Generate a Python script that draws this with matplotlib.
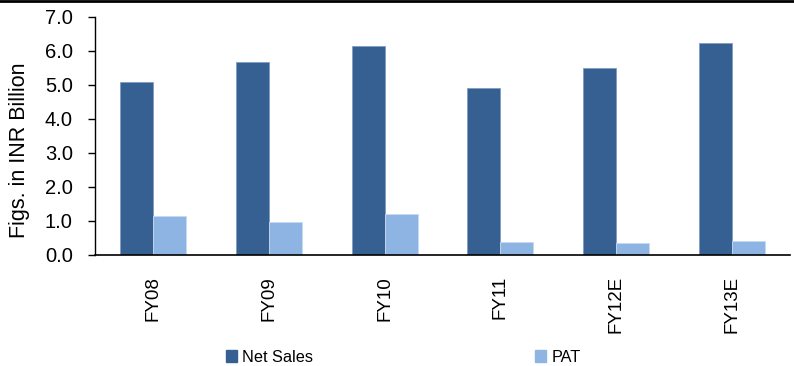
import numpy as np
import matplotlib
matplotlib.use('Agg')
import matplotlib.pyplot as plt
from matplotlib.lines import Line2D
from matplotlib.patches import Patch

years = ['FY08', 'FY09', 'FY10', 'FY11', 'FY12E', 'FY13E']
net_sales = [5.09, 5.65, 6.13, 4.90, 5.48, 6.21]
pat = [1.13, 0.97, 1.20, 0.39, 0.34, 0.41]

c_sales = '#366092'
c_pat = '#8DB4E2'

plt.rcParams['font.family'] = ['Liberation Sans', 'DejaVu Sans']

fig = plt.figure(figsize=(7.94, 3.66), dpi=100)
ax = fig.add_axes([95 / 794, 1 - 255 / 366, 695 / 794, 238.5 / 366])

x = np.arange(len(years))
w = 0.285
ax.bar(x - w / 2, net_sales, w, color=c_sales, edgecolor='#7F9CC4', linewidth=0.6)
ax.bar(x + w / 2, pat, w, color=c_pat, edgecolor='#C5D9F1', linewidth=0.6)

ax.set_xlim(-0.5, len(years) - 0.5)
ax.set_ylim(0, 7)
ax.set_yticks(np.arange(0, 7.01, 1.0))
ax.set_yticklabels(['%.1f' % v for v in np.arange(0, 7.01, 1.0)], fontsize=14.5)
ax.set_xticks(x)
ax.set_xticklabels(years, rotation=90, fontsize=13.5)
ax.tick_params(axis='x', length=0, pad=15)
ax.tick_params(axis='y', length=5, width=1, direction='out', pad=11)
ax.set_ylabel('Figs. in INR Billion', fontsize=15.5)
ax.yaxis.set_label_coords(-0.094, 0.44)

for s in ['top', 'right']:
    ax.spines[s].set_visible(False)
ax.spines['left'].set_linewidth(1)
ax.spines['bottom'].set_linewidth(1.2)

# legend entries spread like the original
h1 = Patch(facecolor=c_sales, edgecolor=c_sales)
h2 = Patch(facecolor=c_pat, edgecolor=c_pat)
fig.legend([h1], ['Net Sales'], loc='center left', bbox_to_anchor=(226 / 794, 1 - 357 / 366),
           frameon=False, fontsize=11.7, handlelength=0.7, handleheight=0.7, handletextpad=0.3,
           borderpad=0, borderaxespad=0)
fig.legend([h2], ['PAT'], loc='center left', bbox_to_anchor=(535 / 794, 1 - 357 / 366),
           frameon=False, fontsize=11.7, handlelength=0.7, handleheight=0.7, handletextpad=0.3,
           borderpad=0, borderaxespad=0)

# black rule along the top edge
fig.add_artist(Line2D([0, 1], [1 - 1 / 366, 1 - 1 / 366], color='black', linewidth=2,
                      transform=fig.transFigure))

fig.savefig('out.png', dpi=100)
